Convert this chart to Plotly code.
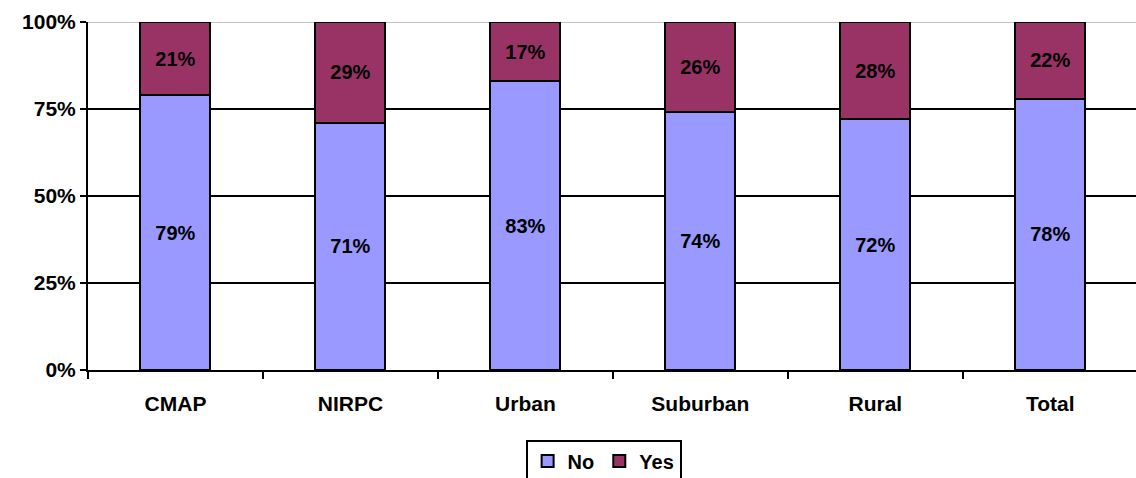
import plotly.graph_objects as go

categories = ["CMAP", "NIRPC", "Urban", "Suburban", "Rural", "Total"]
no_values = [79, 71, 83, 74, 72, 78]
yes_values = [21, 29, 17, 26, 28, 22]
y_tick_values = [0, 25, 50, 75, 100]
y_tick_labels = ["0%", "25%", "50%", "75%", "100%"]

FONT = "Arial, Liberation Sans, sans-serif"
label_font = dict(family=FONT, size=20, color="black")

fig = go.Figure()
fig.add_trace(go.Bar(
    name="<b>No</b>", x=categories, y=no_values,
    marker=dict(color="#9999FF", line=dict(color="black", width=2)),
    text=[f"<b>{v}%</b>" for v in no_values], textposition="inside",
    insidetextanchor="middle", textfont=label_font, hoverinfo="skip",
))
fig.add_trace(go.Bar(
    name="<b>Yes</b>", x=categories, y=yes_values,
    marker=dict(color="#993366", line=dict(color="black", width=2)),
    text=[f"<b>{v}%</b>" for v in yes_values], textposition="inside",
    insidetextanchor="middle", textfont=label_font, hoverinfo="skip",
))

# thin grey line along the 100% level
fig.add_shape(type="line", xref="paper", yref="y", x0=0, x1=1, y0=100, y1=100,
              line=dict(color="#888888", width=1), layer="below")

fig.update_layout(
    width=1136, height=478,
    barmode="stack", bargap=0.6,
    margin=dict(l=88, r=0, t=22, b=108, autoexpand=False),
    plot_bgcolor="white", paper_bgcolor="white",
    font=dict(family=FONT, color="black"),
    uniformtext=dict(mode="show", minsize=20),
    xaxis=dict(
        type="category", range=[-0.5, 5.49],
        showline=True, linecolor="black", linewidth=2,
        ticks="outside", tickson="boundaries", ticklen=7, tickwidth=2, tickcolor="black",
        tickfont=dict(family=FONT, size=21, color="black"),
        tickprefix="<b>", ticksuffix="</b>",
        ticklabelstandoff=14,
        showgrid=False,
    ),
    yaxis=dict(
        range=[0, 100], tickvals=y_tick_values,
        ticktext=[f"<b>{t}</b>" for t in y_tick_labels],
        showline=True, linecolor="black", linewidth=2,
        ticks="outside", ticklen=6, tickwidth=2, tickcolor="black",
        tickfont=dict(family=FONT, size=21, color="black"),
        showgrid=False, zeroline=False,
        minor=dict(tickvals=[25, 50, 75], showgrid=True, gridcolor="black",
                   gridwidth=2, ticks=""),
    ),
    legend=dict(
        orientation="h", xanchor="center", x=0.492, yanchor="top", y=-0.2,
        bordercolor="black", borderwidth=2, bgcolor="white",
        font=dict(family=FONT, size=20, color="black"),
        itemwidth=30, traceorder="normal",
    ),
)

fig.write_html("out.html")
